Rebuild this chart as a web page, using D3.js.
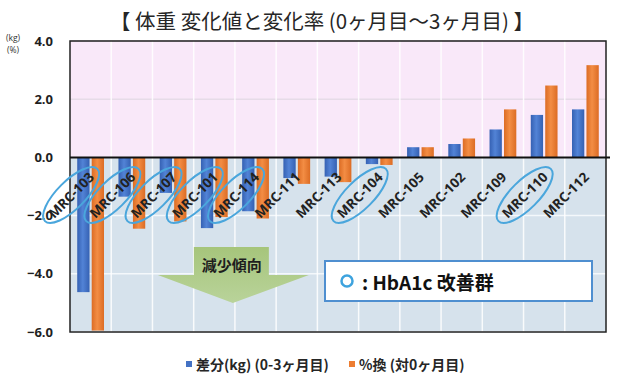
<!DOCTYPE html>
<html><head><meta charset="utf-8">
<script src="https://cdn.jsdelivr.net/npm/d3@7"></script>
<style>
html,body{margin:0;padding:0;background:#fff;}
svg{display:block;font-family:"Noto Sans CJK JP","Noto Sans",sans-serif;}
</style></head>
<body><svg id="c" width="640" height="380"></svg>
<script>
const categories = ["MRC-103","MRC-106","MRC-107","MRC-101","MRC-114","MRC-111","MRC-113","MRC-104","MRC-105","MRC-102","MRC-109","MRC-110","MRC-112"];
const kgChange  = [-4.63,-1.35,-1.22,-2.43,-1.85,-0.71,-0.66,-0.23,0.35,0.46,0.96,1.46,1.65];
const pctChange = [-5.95,-2.45,-2.20,-2.05,-2.10,-0.91,-0.85,-0.26,0.35,0.65,1.65,2.47,3.17];
const yTicks = [4,2,0,-2,-4,-6];
const improved = ["MRC-103","MRC-106","MRC-107","MRC-101","MRC-114","MRC-104","MRC-110"];
const seriesNames = ["差分(kg) (0-3ヶ月目)","%換 (対0ヶ月目)"];
const titleText = "【 体重 変化値と変化率 (0ヶ月目〜3ヶ月目) 】";
const trendText = "減少傾向";
const noteText = ": HbA1c 改善群";

const svg = d3.select("#c");
const L=70, R=606, T=41, B=332;
const x = d3.scaleBand().domain(categories).range([L,R]);
const sub = d3.scaleBand().domain([0,1]).range([0,x.bandwidth()]).paddingInner(0.15).paddingOuter(0.5);
const y = d3.scaleLinear().domain([-6,4]).range([B,T]);
const colors = ["#4472c4","#ed7d31"];

const defs = svg.append("defs");
[["gb","#3561b3","#5283d6"],["go","#dc6c24","#f38d44"]].forEach(([id,a,b])=>{
  const g=defs.append("linearGradient").attr("id",id).attr("x1","0").attr("x2","1").attr("y1","0").attr("y2","0");
  g.append("stop").attr("offset","0%").attr("stop-color",a);
  g.append("stop").attr("offset","45%").attr("stop-color",b);
  g.append("stop").attr("offset","100%").attr("stop-color",a);
});
const ga=defs.append("linearGradient").attr("id","ga").attr("x1","0").attr("x2","0").attr("y1","0").attr("y2","1");
ga.append("stop").attr("offset","0%").attr("stop-color","#a6c57b");
ga.append("stop").attr("offset","100%").attr("stop-color","#b9d39a");

// title
svg.append("text").attr("x",322).attr("y",20).attr("text-anchor","middle").attr("dominant-baseline","central")
  .attr("font-size",20.5).attr("fill","#262626").text(titleText);

// backgrounds
svg.append("rect").attr("x",L).attr("y",y(4)).attr("width",R-L).attr("height",y(0)-y(4)).attr("fill","#f9e8f9");
svg.append("rect").attr("x",L).attr("y",y(0)).attr("width",R-L).attr("height",y(-6)-y(0)).attr("fill","#d6e2ec");

// grid
svg.append("g").selectAll("line").data(yTicks).join("line")
  .attr("x1",L).attr("x2",R).attr("y1",d=>y(d)).attr("y2",d=>y(d))
  .attr("stroke",d=>d>0?"#e6dbe8":"#f4f8fb").attr("stroke-width",1.5);
svg.append("g").selectAll("line").data(categories.slice(1)).join("line")
  .attr("x1",d=>x(d)).attr("x2",d=>x(d)).attr("y1",T).attr("y2",B)
  .attr("stroke","#ffffff").attr("stroke-opacity",0.85).attr("stroke-width",1.5);

// bars
const bars = svg.append("g");
categories.forEach((c,i)=>{
  [kgChange[i],pctChange[i]].forEach((v,s)=>{
    bars.append("rect").attr("x",x(c)+sub(s)).attr("width",sub.bandwidth())
      .attr("y",y(Math.max(0,v))).attr("height",Math.abs(y(v)-y(0)))
      .attr("fill",s===0?"url(#gb)":"url(#go)");
  });
});

// arrow annotation
const ax = x(categories[3]) + 0.95*x.bandwidth();
const arrowPts = [[-39,247],[36,247],[36,275],[76,275],[0,303],[-75,275],[-39,275]];
svg.append("polygon").attr("points",arrowPts.map(p=>[ax+p[0],p[1]].join(",")).join(" "))
  .attr("fill","url(#ga)");
svg.append("text").attr("x",ax-1).attr("y",264).attr("text-anchor","middle").attr("dominant-baseline","central")
  .attr("font-size",15).attr("font-weight","bold").attr("fill","#1e1e1e").text(trendText);

// note box
svg.append("rect").attr("x",325).attr("y",261).attr("width",267).attr("height",40)
  .attr("fill","#ffffff").attr("stroke","#4f8fd0").attr("stroke-width",2);
svg.append("circle").attr("cx",347).attr("cy",281).attr("r",5.5).attr("fill","#fff")
  .attr("stroke","#3ea3de").attr("stroke-width",2.5);
svg.append("text").attr("x",362).attr("y",281).attr("dominant-baseline","central")
  .attr("font-size",19).attr("font-weight","bold").attr("fill","#111").text(noteText);

// frame + zero line
svg.append("rect").attr("x",L).attr("y",T).attr("width",R-L).attr("height",B-T)
  .attr("fill","none").attr("stroke","#222").attr("stroke-width",1.5);
svg.append("line").attr("x1",L).attr("x2",R+4).attr("y1",y(0)).attr("y2",y(0))
  .attr("stroke","#111").attr("stroke-width",2);

// y axis labels
const yAxis = d3.axisLeft(y).tickValues(yTicks).tickFormat(d3.format(".1f")).tickSize(0).tickPadding(17);
const yg = svg.append("g").attr("transform",`translate(${L},0)`).call(yAxis);
yg.select(".domain").remove();
yg.selectAll("text").attr("font-size",13).attr("font-weight","bold").attr("fill","#1e1e1e")
  .attr("font-family","'Open Sans','Noto Sans',sans-serif");
svg.append("text").attr("x",6).attr("y",37).attr("font-size",8.5).attr("fill","#333")
  .attr("font-family","'Open Sans',sans-serif").attr("dominant-baseline","central").text("(kg)");
svg.append("text").attr("x",7).attr("y",49).attr("font-size",8.5).attr("fill","#333")
  .attr("font-family","'Open Sans',sans-serif").attr("dominant-baseline","central").text("(%)");

// category labels
const lab = svg.append("g");
categories.forEach(c=>{
  const cx = x(c)+x.bandwidth()/2-19.5, cy=195;
  lab.append("text").attr("transform",`translate(${cx},${cy}) rotate(-45)`)
    .attr("text-anchor","middle").attr("dominant-baseline","central")
    .attr("font-size",13.5).attr("font-weight","bold").attr("fill","#222")
    .attr("font-family","'Open Sans','Noto Sans',sans-serif").text(c);
  if(improved.includes(c)){
    lab.append("ellipse").attr("transform",`translate(${cx},${cy}) rotate(-45)`)
      .attr("rx",37).attr("ry",14).attr("fill","none").attr("stroke","#4aa6dc").attr("stroke-width",2);
  }
});

// legend
const leg = svg.append("g");
const legX=[186,349];
seriesNames.forEach((n,i)=>{
  leg.append("rect").attr("x",legX[i]).attr("y",361).attr("width",6).attr("height",6).attr("fill",colors[i]);
  leg.append("text").attr("x",legX[i]+10).attr("y",364).attr("dominant-baseline","central")
    .attr("font-size",14).attr("font-weight","bold").attr("fill","#262626").text(n);
});
</script></body></html>
